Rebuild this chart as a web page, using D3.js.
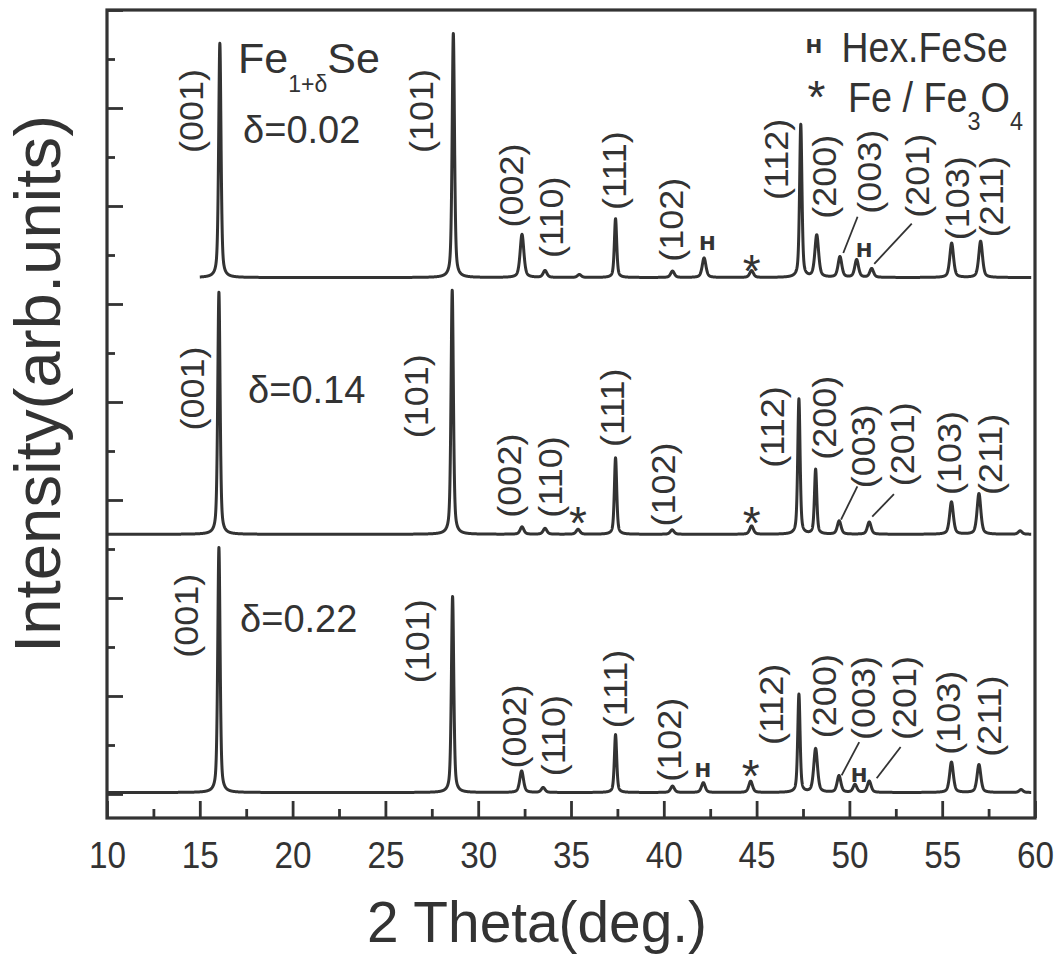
<!DOCTYPE html>
<html>
<head>
<meta charset="utf-8">
<script src="https://cdn.jsdelivr.net/npm/d3@7/dist/d3.min.js"></script>
<style>
  body { margin: 0; background: #fff; }
  svg text { font-family: "Liberation Sans", Arial, Helvetica, sans-serif; fill: #333; }
</style>
</head>
<body>
<div id="chart"></div>
<script>
// XRD patterns of Fe(1+d)Se, three compositions stacked with vertical offsets
// Peak positions (2 theta, deg) and heights above baseline (arb. units)

const samples = ["δ=0.02", "δ=0.14", "δ=0.22"];
const baselines = [5.27, 2.65, 0.015];     // vertical offset of each pattern
const thetaStart = [15, 10, 10];           // where each scan begins
const thetaEnd = 59.8;

const theta02 = [16.08, 28.66, 32.36, 33.60, 35.45, 37.40, 40.47, 42.17, 44.73, 47.38, 48.24, 49.49, 50.39, 51.20, 55.51, 57.07];
const int02   = [2.39, 2.49, 0.44, 0.07, 0.03, 0.60, 0.065, 0.20, 0.07, 1.56, 0.43, 0.21, 0.18, 0.09, 0.35, 0.37];

const theta14 = [16.03, 28.60, 32.36, 33.60, 35.38, 37.40, 40.45, 44.73, 47.28, 48.18, 49.45, 51.07, 55.50, 56.98, 59.20];
const int14   = [2.47, 2.49, 0.075, 0.06, 0.05, 0.78, 0.045, 0.085, 1.38, 0.66, 0.135, 0.125, 0.33, 0.415, 0.035];

const theta22 = [16.03, 28.62, 32.34, 33.50, 37.40, 40.47, 42.13, 44.68, 47.28, 48.18, 49.44, 50.30, 51.07, 55.50, 56.98, 59.25];
const int22   = [2.50, 2.00, 0.22, 0.05, 0.59, 0.065, 0.10, 0.115, 1.00, 0.446, 0.17, 0.08, 0.115, 0.31, 0.285, 0.03];

// Miller index labels: centre (2 theta) and lower end (intensity) of each rotated label
const hkl = ["(001)", "(101)", "(002)", "(110)", "(111)", "(102)", "(112)", "(200)", "(003)", "(201)", "(103)", "(211)"];
const hklTheta02 = [14.56, 26.96, 31.82, 33.96, 37.37, 40.43, 46.08, 48.69, 51.11, 53.70, 55.85, 57.68];
const hklLevel02 = [6.54, 6.54, 5.78, 5.47, 5.96, 5.43, 6.06, 5.87, 5.92, 5.88, 5.65, 5.68];
const hklTheta14 = [14.63, 26.70, 31.71, 33.91, 37.26, 40.01, 45.88, 48.69, 50.75, 52.89, 55.42, 57.63];
const hklLevel14 = [3.71, 3.63, 2.82, 2.82, 3.54, 2.73, 3.33, 3.41, 3.12, 3.14, 3.05, 3.05];
const hklTheta22 = [14.31, 26.76, 31.98, 34.05, 37.42, 40.33, 45.81, 48.69, 50.75, 53.00, 55.33, 57.58];
const hklLevel22 = [1.39, 1.13, 0.26, 0.18, 0.67, 0.125, 0.50, 0.57, 0.55, 0.55, 0.40, 0.38];

// leader lines from the (003) and (201) labels to their peaks: [theta1, level1, theta2, level2]
const leaders = [
  [50.44, 5.89, 49.67, 5.52], [53.36, 5.82, 51.34, 5.41],
  [50.43, 3.14, 49.55, 2.80], [52.40, 3.06, 51.23, 2.83],
  [50.53, 0.53, 49.58, 0.19], [52.76, 0.48, 51.47, 0.16]
];

// impurity markers: H = hexagonal FeSe, * = Fe / Fe3O4
const hexTheta = [42.35, 50.79, 42.11, 50.52];
const hexLevel = [5.55, 5.48, 0.177, 0.126];
const starTheta = [44.74, 35.38, 44.74, 44.68];
const starLevel = [5.17, 2.60, 2.60, 0.02];

const xMajor = [10, 15, 20, 25, 30, 35, 40, 45, 50, 55, 60];
const xMinor = [12.5, 17.5, 22.5, 27.5, 32.5, 37.5, 42.5, 47.5, 52.5, 57.5];
const yMajor = [0, 1, 2, 3, 4, 5, 6, 7, 8];
const yMinor = [0.5, 1.5, 2.5, 3.5, 4.5, 5.5, 6.5, 7.5];

const width = 1062, height = 958;
const margin = {top: 10, right: 27, bottom: 140, left: 107};
const ink = "#333";

const svg = d3.select("#chart").append("svg")
  .attr("width", width)
  .attr("height", height);

const x = d3.scaleLinear().domain([10, 60]).range([margin.left, width - margin.right]);
const y = d3.scaleLinear().domain([-0.245, 8]).range([height - margin.bottom, margin.top]);

// peak profile (pseudo-Voigt) for drawing each reflection
function profile(t, pos, amp) {
  let s = 0;
  for (let i = 0; i < pos.length; i++) {
    const w = amp[i] > 0.5 ? 0.15 : 0.24;
    const u = (t - pos[i]) / w;
    s += amp[i] * (0.5 / (1 + 4 * u * u) + 0.5 * Math.exp(-4 * Math.LN2 * u * u));
  }
  return s;
}

const patterns = [[theta02, int02], [theta14, int14], [theta22, int22]];

const line = d3.line()
  .x(d => x(d[0]))
  .y(d => y(d[1]));

patterns.forEach(([pos, amp], k) => {
  const pts = [];
  for (let t = thetaStart[k]; t <= thetaEnd; t += 0.005) {
    pts.push([t, baselines[k] + profile(t, pos, amp)]);
  }
  svg.append("path")
    .datum(pts)
    .attr("fill", "none")
    .attr("stroke", ink)
    .attr("stroke-width", 3)
    .attr("stroke-linejoin", "round")
    .attr("d", line);
});

// axes: ticks point inward, no labels on the intensity axis
const xAxisG = svg.append("g")
  .attr("transform", `translate(0, ${y.range()[0]})`)
  .attr("color", ink)
  .call(d3.axisBottom(x).tickValues(xMajor).tickSizeInner(-17).tickSizeOuter(0).tickPadding(24));
xAxisG.select(".domain").remove();
xAxisG.selectAll("line").attr("stroke-width", 2.8);
xAxisG.selectAll("text")
  .style("font-size", "37px")
  .attr("textLength", 37)
  .attr("lengthAdjust", "spacingAndGlyphs");

svg.append("g")
  .attr("transform", `translate(0, ${y.range()[0]})`)
  .attr("color", ink)
  .call(d3.axisBottom(x).tickValues(xMinor).tickSizeInner(-9).tickSizeOuter(0).tickFormat(""))
  .call(g => g.select(".domain").remove())
  .selectAll("line").attr("stroke-width", 2.8);

svg.append("g")
  .attr("transform", `translate(${x.range()[0]}, 0)`)
  .attr("color", ink)
  .call(d3.axisLeft(y).tickValues(yMajor).tickSizeInner(-16).tickSizeOuter(0).tickFormat(""))
  .call(g => g.select(".domain").remove())
  .selectAll("line").attr("stroke-width", 2.8);

svg.append("g")
  .attr("transform", `translate(${x.range()[0]}, 0)`)
  .attr("color", ink)
  .call(d3.axisLeft(y).tickValues(yMinor).tickSizeInner(-8).tickSizeOuter(0).tickFormat(""))
  .call(g => g.select(".domain").remove())
  .selectAll("line").attr("stroke-width", 2.8);

// frame
svg.append("rect")
  .attr("x", x.range()[0])
  .attr("y", y.range()[1])
  .attr("width", x.range()[1] - x.range()[0])
  .attr("height", y.range()[0] - y.range()[1])
  .attr("fill", "none")
  .attr("stroke", ink)
  .attr("stroke-width", 3.2);

// axis titles
svg.append("text")
  .attr("x", 537)
  .attr("y", 942)
  .attr("text-anchor", "middle")
  .style("font-size", "58px")
  .attr("textLength", 340)
  .attr("lengthAdjust", "spacingAndGlyphs")
  .text("2 Theta(deg.)");

svg.append("text")
  .attr("transform", "translate(60, 384) rotate(-90)")
  .attr("text-anchor", "middle")
  .style("font-size", "64px")
  .attr("textLength", 538)
  .attr("lengthAdjust", "spacingAndGlyphs")
  .text("Intensity(arb.units)");

// Miller index labels
const hklSets = [[hklTheta02, hklLevel02], [hklTheta14, hklLevel14], [hklTheta22, hklLevel22]];
hklSets.forEach(([th, lv]) => {
  hkl.forEach((name, i) => {
    svg.append("text")
      .attr("transform", `translate(${x(th[i])}, ${y(lv[i])}) rotate(-90) scale(1, 0.9)`)
      .attr("dy", "0.35em")
      .style("font-size", "36px")
      .text(name);
  });
});

svg.selectAll("line.leader")
  .data(leaders)
  .enter()
  .append("line")
  .attr("class", "leader")
  .attr("x1", d => x(d[0])).attr("y1", d => y(d[1]))
  .attr("x2", d => x(d[2])).attr("y2", d => y(d[3]))
  .attr("stroke", ink)
  .attr("stroke-width", 1.8);

// impurity markers
hexTheta.forEach((t, i) => {
  svg.append("text")
    .attr("x", x(t)).attr("y", y(hexLevel[i]))
    .attr("text-anchor", "middle")
    .style("font-family", "'DejaVu Sans', sans-serif")
    .style("font-weight", "bold")
    .style("font-size", "20px")
    .text("H");
});
starTheta.forEach((t, i) => {
  svg.append("text")
    .attr("x", x(t)).attr("y", y(starLevel[i]))
    .attr("text-anchor", "middle")
    .style("font-size", "46px")
    .text("*");
});

// sample composition labels
const formula = svg.append("text")
  .attr("x", x(17.06)).attr("y", y(7.36))
  .style("font-size", "43px");
formula.append("tspan").text("Fe");
formula.append("tspan").attr("dy", 19).style("font-size", "23px").text("1+δ");
formula.append("tspan").attr("dy", -19).text("Se");

const sampleTheta = [17.33, 17.60, 17.17];
const sampleLevel = [6.64, 3.99, 1.65];
samples.forEach((s, i) => {
  svg.append("text")
    .attr("x", x(sampleTheta[i])).attr("y", y(sampleLevel[i]))
    .style("font-size", "38px")
    .text(s);
});

// legend
svg.append("text")
  .attr("x", x(48.09)).attr("y", y(7.56))
  .attr("text-anchor", "middle")
  .style("font-family", "'DejaVu Sans', sans-serif")
  .style("font-weight", "bold")
  .style("font-size", "20px")
  .text("H");
svg.append("text")
  .attr("transform", `translate(${x(49.58)}, ${y(7.47)}) scale(0.89, 1)`)
  .style("font-size", "42px")
  .text("Hex.FeSe");

svg.append("text")
  .attr("x", x(48.23)).attr("y", y(6.95))
  .attr("text-anchor", "middle")
  .style("font-size", "46px")
  .text("*");
const feo = svg.append("text")
  .attr("transform", `translate(${x(49.92)}, ${y(6.96)}) scale(0.9, 1)`)
  .style("font-size", "42px");
feo.append("tspan").text("Fe / Fe");
feo.append("tspan").attr("dy", 18).style("font-size", "26px").text("3");
feo.append("tspan").attr("dy", -18).text("O");
feo.append("tspan").attr("dy", 18).style("font-size", "26px").text("4");
</script>
</body>
</html>
